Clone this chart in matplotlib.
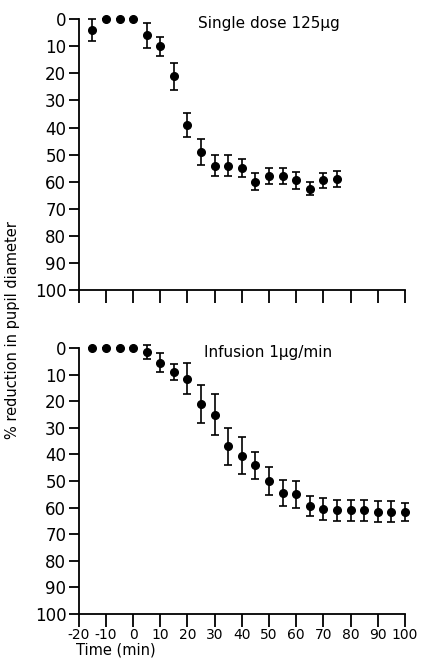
import matplotlib
matplotlib.use("Agg")
import matplotlib.pyplot as plt
import numpy as np

# single dose 125 ug
t_single = [-15, -10, -5, 0, 5, 10, 15, 20, 25, 30, 35, 40, 45, 50, 55, 60, 65, 70, 75]
r_single = [4, 0, 0, 0, 6, 10, 21, 39, 49, 54, 54, 55, 60, 58, 58, 59.5, 62.5, 59.5, 59]
e_single = [4, 0, 0, 0, 4.5, 3.5, 5, 4.3, 4.8, 3.7, 3.7, 3.4, 3.2, 3, 3, 3, 2.5, 2.8, 3]

# infusion 1 ug/min
t_inf = [-15, -10, -5, 0, 5, 10, 15, 20, 25, 30, 35, 40, 45, 50, 55, 60,
         65, 70, 75, 80, 85, 90, 95, 100]
r_inf = [0, 0, 0, 0, 1.5, 5.5, 9, 11.5, 21, 25, 37, 40.5, 44, 50, 54.5, 55,
         59.5, 60.5, 61, 61, 61, 61.5, 61.5, 61.5]
e_inf = [0, 0, 0, 0, 2.8, 3.6, 2.9, 5.9, 7, 7.8, 6.9, 7, 5.1, 5.2, 4.8, 5,
         3.8, 4, 4, 4, 4, 4, 4, 3.4]

xticks = list(range(-20, 101, 10))
yticks = list(range(0, 101, 10))

fig = plt.figure(figsize=(4.33, 6.61), dpi=100)
ax1 = fig.add_axes([0.182, 0.561, 0.753, 0.410])
ax2 = fig.add_axes([0.182, 0.071, 0.753, 0.4025])


def style(ax, labels):
    ax.set_xlim(-20, 100)
    ax.set_ylim(100, 0)
    for s in ["top", "right"]:
        ax.spines[s].set_visible(False)
    for s in ["left", "bottom"]:
        ax.spines[s].set_linewidth(1.3)
    ax.set_xticks(xticks)
    ax.set_yticks(yticks)
    ax.tick_params(axis="y", direction="out", length=7, width=1.3, labelsize=12, pad=2)
    ax.tick_params(axis="x", direction="out", length=9, width=1.3, labelsize=10, pad=1)
    if not labels:
        ax.set_xticklabels([])
    else:
        ax.set_xticklabels([str(v) for v in xticks])


def plot_series(ax, t, r, e):
    t = np.array(t); r = np.array(r); e = np.array(e)
    ax.errorbar(t, r, yerr=e, fmt="o", color="black", ms=5.5, elinewidth=1.2,
                capsize=3, capthick=1.2, clip_on=False)


plot_series(ax1, t_single, r_single, e_single)
plot_series(ax2, t_inf, r_inf, e_inf)
style(ax1, False)
style(ax2, True)

ax1.text(0.365, 0.985, "Single dose 125\u03bcg", transform=ax1.transAxes,
         fontsize=11, va="center", ha="left")
ax2.text(0.385, 0.985, "Infusion 1\u03bcg/min", transform=ax2.transAxes,
         fontsize=11, va="center", ha="left")

fig.text(0.028, 0.50, "% reduction in pupil diameter", rotation=90,
         fontsize=10.5, va="center", ha="center")
fig.text(0.175, 0.016, "Time (min)", fontsize=10.5, ha="left", va="center")

fig.savefig("out.png", dpi=100)
